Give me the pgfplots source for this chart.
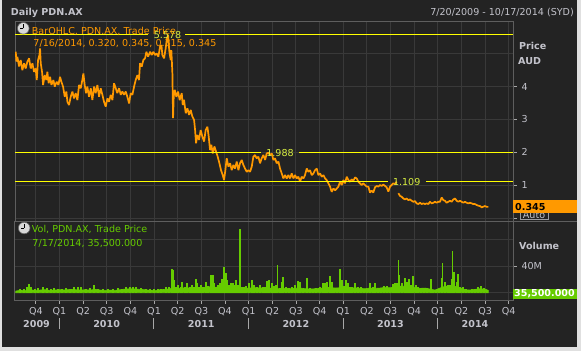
\documentclass[border=0pt]{standalone}
\usepackage{fontspec}
\setmainfont{DejaVu Sans}
\usepackage{pgfplots}
\usepackage{pgfplotstable}
\pgfplotsset{compat=1.18}
\definecolor{bg}{HTML}{232323}
\definecolor{gridc}{HTML}{393939}
\definecolor{framec}{HTML}{5E5E5E}
\definecolor{orng}{HTML}{FF9900}
\definecolor{yel}{HTML}{FFFF00}
\definecolor{yellab}{HTML}{D8EE40}
\definecolor{grn}{HTML}{66CC00}
\definecolor{txt}{HTML}{C3C3CB}
\definecolor{tickc}{HTML}{A8A8A8}
\newcommand\fs{\fontsize{9.6}{11.5}\selectfont}

\pgfplotstableread{
x y
2009.538 5.06
2009.545 4.76
2009.555 4.91
2009.573 4.61
2009.590 4.81
2009.608 4.50
2009.626 4.71
2009.643 4.55
2009.661 4.76
2009.679 4.86
2009.696 4.55
2009.714 4.71
2009.731 4.45
2009.749 4.55
2009.760 4.20
2009.774 4.81
2009.788 4.96
2009.795 5.16
2009.802 4.71
2009.816 4.45
2009.827 4.05
2009.844 4.35
2009.862 4.20
2009.872 4.45
2009.886 4.10
2009.901 4.30
2009.915 4.05
2009.936 4.20
2009.950 4.00
2009.971 4.15
2009.989 4.05
2010.006 4.30
2010.020 4.15
2010.038 4.00
2010.056 3.69
2010.073 3.85
2010.084 3.54
2010.101 3.44
2010.119 3.69
2010.137 3.85
2010.154 3.64
2010.172 3.80
2010.190 3.59
2010.207 4.05
2010.225 3.95
2010.242 4.20
2010.253 4.40
2010.267 4.05
2010.281 3.80
2010.295 4.00
2010.313 3.69
2010.331 3.95
2010.348 3.59
2010.366 4.00
2010.383 3.80
2010.401 4.05
2010.419 3.69
2010.436 3.95
2010.454 3.75
2010.471 3.54
2010.489 3.39
2010.507 3.64
2010.524 3.54
2010.542 3.75
2010.560 3.59
2010.577 4.10
2010.595 3.95
2010.612 3.80
2010.630 3.95
2010.648 3.75
2010.665 3.85
2010.683 3.75
2010.701 3.85
2010.718 3.69
2010.736 3.49
2010.753 3.80
2010.771 3.75
2010.789 4.00
2010.806 4.20
2010.824 4.35
2010.841 4.20
2010.852 4.71
2010.870 4.61
2010.887 4.81
2010.905 4.86
2010.919 5.06
2010.937 4.91
2010.958 5.06
2010.975 4.96
2010.993 5.06
2011.011 4.96
2011.028 5.01
2011.046 4.91
2011.063 5.21
2011.078 5.26
2011.088 4.96
2011.106 4.86
2011.123 5.16
2011.134 5.42
2011.148 5.578
2011.162 5.06
2011.176 4.81
2011.183 5.11
2011.194 4.40
2011.201 3.04
2011.208 3.70
2011.219 3.90
2011.236 3.69
2011.254 3.85
2011.271 3.59
2011.282 3.70
2011.293 3.80
2011.303 3.44
2011.317 3.60
2011.335 3.19
2011.353 3.34
2011.370 3.14
2011.388 3.29
2011.405 3.09
2011.423 2.99
2011.434 2.68
2011.444 2.28
2011.458 2.53
2011.476 2.38
2011.493 2.68
2011.511 2.48
2011.529 2.33
2011.546 2.68
2011.564 2.78
2011.578 2.48
2011.592 2.07
2011.606 2.23
2011.620 1.97
2011.638 2.18
2011.656 2.02
2011.673 1.87
2011.691 1.67
2011.708 1.46
2011.726 1.31
2011.740 1.16
2011.754 1.46
2011.768 1.82
2011.786 1.57
2011.804 1.67
2011.821 1.46
2011.839 1.62
2011.856 1.51
2011.874 1.72
2011.892 1.46
2011.909 1.67
2011.927 1.77
2011.944 1.62
2011.962 1.51
2011.980 1.41
2011.997 1.46
2012.015 1.41
2012.033 1.57
2012.050 1.87
2012.068 1.92
2012.085 1.82
2012.103 1.87
2012.121 1.67
2012.138 1.82
2012.156 1.92
2012.174 1.77
2012.191 1.97
2012.209 1.988
2012.226 1.92
2012.244 1.97
2012.262 1.77
2012.279 1.82
2012.297 1.67
2012.315 1.72
2012.332 1.51
2012.350 1.36
2012.367 1.21
2012.385 1.31
2012.403 1.21
2012.420 1.31
2012.438 1.21
2012.455 1.36
2012.473 1.21
2012.491 1.31
2012.508 1.21
2012.526 1.26
2012.544 1.11
2012.561 1.26
2012.579 1.21
2012.596 1.31
2012.614 1.51
2012.632 1.41
2012.649 1.46
2012.667 1.31
2012.684 1.36
2012.702 1.46
2012.720 1.51
2012.737 1.31
2012.755 1.36
2012.773 1.26
2012.790 1.31
2012.808 1.21
2012.825 1.16
2012.843 1.06
2012.861 0.96
2012.878 0.80
2012.896 0.90
2012.914 0.85
2012.931 0.90
2012.949 0.96
2012.966 1.11
2012.984 1.01
2013.002 1.16
2013.019 1.06
2013.037 1.26
2013.055 1.16
2013.072 1.11
2013.089 1.18
2013.107 1.14
2013.125 1.24
2013.142 1.21
2013.160 1.11
2013.177 1.06
2013.195 1.01
2013.213 1.06
2013.230 1.01
2013.248 0.96
2013.266 0.96
2013.283 0.78
2013.301 0.84
2013.318 0.78
2013.336 0.94
2013.354 0.98
2013.371 0.96
2013.389 1.01
2013.406 0.98
2013.424 1.02
2013.442 0.98
2013.459 0.94
2013.477 0.81
2013.495 0.96
2013.512 1.01
2013.530 1.06
2013.547 1.04
2013.565 1.11
2013.574 nan
2013.583 0.76
2013.600 0.68
2013.618 0.65
2013.636 0.60
2013.653 0.57
2013.671 0.60
2013.688 0.55
2013.706 0.57
2013.724 0.53
2013.741 0.50
2013.759 0.52
2013.776 0.45
2013.794 0.43
2013.812 0.47
2013.829 0.43
2013.847 0.45
2013.865 0.43
2013.882 0.45
2013.900 0.43
2013.917 0.50
2013.935 0.45
2013.953 0.47
2013.970 0.50
2013.988 0.47
2014.005 0.50
2014.023 0.50
2014.041 0.63
2014.058 0.55
2014.076 0.53
2014.093 0.47
2014.111 0.50
2014.129 0.53
2014.146 0.50
2014.164 0.57
2014.182 0.60
2014.199 0.53
2014.217 0.50
2014.235 0.53
2014.252 0.50
2014.270 0.47
2014.287 0.50
2014.305 0.47
2014.323 0.45
2014.340 0.47
2014.358 0.45
2014.375 0.43
2014.393 0.43
2014.411 0.40
2014.428 0.38
2014.446 0.37
2014.464 0.33
2014.481 0.35
2014.499 0.37
2014.516 0.345
2014.534 0.345
}\pricedata

\pgfplotstableread{
x y
2009.538 2.5
2009.583 3.5
2009.636 3
2009.689 4.5
2009.742 3.5
2009.795 4
2009.848 4.5
2009.901 3.5
2009.953 4
2010.006 4.5
2010.059 4
2010.112 5
2010.165 4.5
2010.218 4
2010.271 4.5
2010.323 4
2010.376 5
2010.429 4
2010.482 3.5
2010.535 4
2010.588 3.5
2010.641 4.5
2010.693 5.5
2010.746 6
2010.799 5.5
2010.852 5
2010.905 4.5
2010.958 3.5
2011.011 3
2011.063 4.5
2011.116 5
2011.169 6
2011.222 7.5
2011.275 6.5
2011.328 7.5
2011.380 7
2011.433 7.5
2011.486 7
2011.539 8
2011.592 9
2011.645 8
2011.698 9
2011.750 10
2011.803 8.5
2011.856 8
2011.909 7
2011.962 6.5
2012.015 7
2012.068 7.5
2012.120 7
2012.173 7.5
2012.226 7
2012.279 6.5
2012.332 6
2012.385 6.5
2012.438 6
2012.490 6.5
2012.543 7
2012.596 6
2012.649 5.5
2012.702 6
2012.755 6.5
2012.808 7.5
2012.860 8
2012.913 7
2012.966 7.5
2013.019 8
2013.072 7
2013.125 7.5
2013.178 6.5
2013.230 6
2013.283 7
2013.336 6.5
2013.389 7
2013.442 8
2013.495 7.5
2013.548 8.5
2013.600 10
2013.653 9.5
2013.706 9
2013.759 8
2013.812 6.5
2013.865 7
2013.917 5.5
2013.970 4
2014.023 7
2014.076 9.5
2014.129 10.5
2014.182 9.5
2014.235 7
2014.287 4.5
2014.340 4
2014.393 5
2014.446 6
2014.499 5.5
2014.534 3.5
}\volbase

\pgfplotstableread{
x y
2009.583 5
2009.626 6
2009.657 9
2009.679 13
2009.700 8
2009.742 6
2009.774 7
2009.827 9
2009.869 7
2009.911 5
2009.943 7
2009.985 6
2010.027 5
2010.070 7
2010.112 6
2010.154 9
2010.197 8
2010.228 9
2010.281 6
2010.323 7
2010.366 11
2010.408 6
2010.461 5
2010.514 6
2010.567 5
2010.619 7
2010.662 6
2010.704 8
2010.746 9
2010.778 9
2010.810 8
2010.863 7
2010.915 6
2010.958 5
2011.000 6
2011.042 6
2011.074 5
2011.127 8
2011.159 9
2011.190 35
2011.201 34
2011.211 19
2011.232 9
2011.254 11
2011.285 8
2011.296 16.5
2011.328 9
2011.349 14
2011.380 9
2011.402 11
2011.423 8
2011.444 20
2011.455 14
2011.476 9
2011.497 11
2011.518 9
2011.550 16.5
2011.571 10
2011.603 26
2011.613 21
2011.624 26
2011.634 14
2011.655 9
2011.676 12
2011.698 14
2011.719 20
2011.740 38
2011.761 29
2011.772 19
2011.793 12
2011.814 14
2011.835 14
2011.846 11
2011.867 19
2011.888 11
2011.909 96
2011.930 9
2011.951 9
2011.973 10
2012.004 14
2012.036 19
2012.057 11
2012.089 9
2012.120 11
2012.152 8
2012.173 9
2012.194 18
2012.216 19
2012.247 15
2012.269 10
2012.290 11
2012.303 41.5
2012.332 6.5
2012.353 16.5
2012.364 24
2012.396 8
2012.427 7
2012.459 9
2012.490 11.5
2012.522 17.5
2012.543 16.5
2012.575 5.5
2012.617 22.5
2012.649 7
2012.681 6
2012.712 7
2012.755 9
2012.786 14
2012.808 14
2012.829 15.5
2012.860 25
2012.882 16.5
2012.903 6.5
2012.934 6.5
2012.966 35.5
2012.987 19
2013.008 10
2013.030 19
2013.051 14
2013.072 9
2013.093 8
2013.125 14
2013.156 9
2013.188 9
2013.220 6
2013.252 5
2013.283 14
2013.315 8
2013.336 14
2013.368 6.5
2013.400 6.5
2013.431 10
2013.463 10
2013.495 7
2013.526 13
2013.548 15
2013.569 15
2013.583 49
2013.590 26.5
2013.622 14
2013.653 21.5
2013.674 16.5
2013.696 20
2013.717 12
2013.738 25
2013.770 12
2013.791 9
2013.823 6.5
2013.854 7
2013.886 6.5
2013.928 20
2013.949 4
2013.981 3.5
2014.013 5
2014.044 21.5
2014.052 45
2014.076 16.5
2014.108 11.5
2014.129 11.5
2014.150 20
2014.158 62
2014.171 31.5
2014.203 16.5
2014.214 28
2014.235 9
2014.266 9
2014.298 5
2014.330 4
2014.362 6
2014.393 5
2014.425 8
2014.457 10
2014.488 6.5
2014.520 4
}\volspikes

\begin{document}
\begin{tikzpicture}[x=1bp,y=1bp]
\useasboundingbox (0,0) rectangle (581,351);
\fill[white!88!black] (0,0) rectangle (581,351);
\fill[bg] (1.5,3.7) rectangle (577.3,351);

% price panel
\begin{axis}[
  at={(15bp,130bp)}, anchor=south west,
  width=498bp, height=199bp, scale only axis,
  xmin=2009.53, xmax=2014.795,
  ymin=-0.085, ymax=5.964,
  axis line style={framec, line width=1bp},
  xtick={2009.75,2010,2010.25,2010.5,2010.75,2011,2011.25,2011.5,2011.75,2012,2012.25,2012.5,2012.75,2013,2013.25,2013.5,2013.75,2014,2014.25,2014.5,2014.75},
  xticklabels={},
  xtick style={draw=none},
  ytick={0,1,2,3,4}, yticklabels={,1,2,3,4},
  extra y ticks={5}, extra y tick labels={}, extra y tick style={major tick length=0pt, grid=major},
  ytick pos=right, yticklabel pos=right,
  grid=major, grid style={gridc, line width=1bp},
  tick align=outside, major tick length=3.5bp,
  ytick style={tickc, line width=0.8bp},
  tick label style={font=\fs, text=txt},
  yticklabel style={xshift=1.5bp},
  unbounded coords=jump,
]
\addplot[orng, line width=1.7bp, line join=bevel] table {\pricedata};
\addplot[yel, line width=1.2bp] coordinates {(2009.53,5.578) (2010.937,5.578)};
\addplot[yel, line width=1.2bp] coordinates {(2011.328,5.578) (2014.795,5.578)};
\addplot[yel, line width=1.2bp] coordinates {(2009.53,1.988) (2012.131,1.988)};
\addplot[yel, line width=1.2bp] coordinates {(2012.533,1.988) (2014.795,1.988)};
\addplot[yel, line width=1.2bp] coordinates {(2009.53,1.109) (2013.474,1.109)};
\addplot[yel, line width=1.2bp] coordinates {(2013.875,1.109) (2014.795,1.109)};
\node[text=yellab, font=\fs, inner sep=0] at (axis cs:2011.143,5.578) {5.578};
\node[text=yellab, font=\fs, inner sep=0] at (axis cs:2012.332,1.988) {1.988};
\node[text=yellab, font=\fs, inner sep=0] at (axis cs:2013.671,1.109) {1.109};
\end{axis}

% volume panel
\begin{axis}[
  at={(15bp,51bp)}, anchor=south west,
  width=498bp, height=79bp, scale only axis,
  xmin=2009.53, xmax=2014.795,
  ymin=-10.9, ymax=107.4,
  axis line style={framec, line width=1bp},
  xtick={2009.75,2010,2010.25,2010.5,2010.75,2011,2011.25,2011.5,2011.75,2012,2012.25,2012.5,2012.75,2013,2013.25,2013.5,2013.75,2014,2014.25,2014.5,2014.75},
  xticklabels={Q4,Q1,Q2,Q3,Q4,Q1,Q2,Q3,Q4,Q1,Q2,Q3,Q4,Q1,Q2,Q3,Q4,Q1,Q2,Q3,Q4},
  xtick pos=bottom,
  ytick={40}, yticklabels={40M},
  extra y ticks={0,80}, extra y tick labels={,}, extra y tick style={major tick length=0pt, grid=major},
  ytick pos=right, yticklabel pos=right,
  grid=major, grid style={gridc, line width=1bp},
  tick align=outside, major tick length=3.5bp,
  tick style={tickc, line width=0.8bp},
  tick label style={font=\fs, text=txt},
  yticklabel style={xshift=1.5bp},
]
\addplot[fill=grn, draw=grn, line width=0.6bp] table {\volbase} \closedcycle;
\addplot[ycomb, grn, line width=1.4bp] table {\volspikes};
\end{axis}

% separator extension
\draw[framec, line width=1bp] (513,130) -- (577.3,130);

% title and date range
\node[anchor=base west, inner sep=0, font=\fs\bfseries, text=txt] at (10.7,335.3) {Daily PDN.AX};
\node[anchor=base east, inner sep=0, font=\fs, text=txt] at (574,335.3) {7/20/2009 - 10/17/2014 (SYD)};

% price legend
\fill[white!85!black] (23.3,322.7) circle (5.8);
\draw[black!60, line width=0.6bp] (23.3,322.7) circle (5.8);
\draw[black, line width=1bp] (23.3,322.7) -- (23.3,326.8);
\draw[black, line width=1bp] (23.3,322.7) -- (20.3,322.7);
\node[anchor=base west, inner sep=0, font=\fs, text=orng] at (31.7,317) {BarOHLC, PDN.AX, Trade Price};
\node[anchor=base west, inner sep=0, font=\fs, text=orng] at (33.3,304.3) {7/16/2014, 0.320, 0.345, 0.315, 0.345};

% volume legend
\fill[white!85!black] (24.2,123) circle (5.8);
\draw[black!60, line width=0.6bp] (24.2,123) circle (5.8);
\draw[black, line width=1bp] (24.2,123) -- (24.2,127.1);
\draw[black, line width=1bp] (24.2,123) -- (21.2,123);
\node[anchor=base west, inner sep=0, font=\fs, text=grn] at (31.7,118.3) {Vol, PDN.AX, Trade Price};
\node[anchor=base west, inner sep=0, font=\fs, text=grn] at (32.3,104.3) {7/17/2014, 35,500.000};

% right side labels
\node[anchor=base west, inner sep=0, font=\fs\bfseries, text=txt] at (519,301.7) {Price};
\node[anchor=base west, inner sep=0, font=\fs\bfseries, text=txt] at (518,286.7) {AUD};
\node[anchor=base west, inner sep=0, font=\fs\bfseries, text=txt] at (519,101.7) {Volume};

% Auto box and last price box
\draw[txt!80!black, fill=bg, line width=0.8bp] (520,131.2) rectangle (548,143);
\node[anchor=base, inner sep=0, font=\fs, text=txt] at (534,132.5) {Auto};
\fill[orng] (513,138) rectangle (577,151);
\node[anchor=base west, inner sep=0, font=\fs\bfseries, text=black] at (515,141) {0.345};

% last volume box
\fill[grn] (513,52.5) rectangle (577,62);
\node[anchor=base west, inner sep=0, font=\fs\bfseries, text=white] at (514,54.2) {35,500.000};

% year labels and separators
\foreach \xx/\tt in {36.5/2009,106.65/2010,201.25/2011,295.85/2012,390.45/2013,475/2014}
  \node[anchor=base, inner sep=0, font=\fs\bfseries, text=txt] at (\xx,23.7) {\tt};
\foreach \xx in {59.35,153.95,248.55,343.15,437.75}
  \draw[tickc, line width=1bp] (\xx,21.7) -- (\xx,32.7);
\end{tikzpicture}
\end{document}
